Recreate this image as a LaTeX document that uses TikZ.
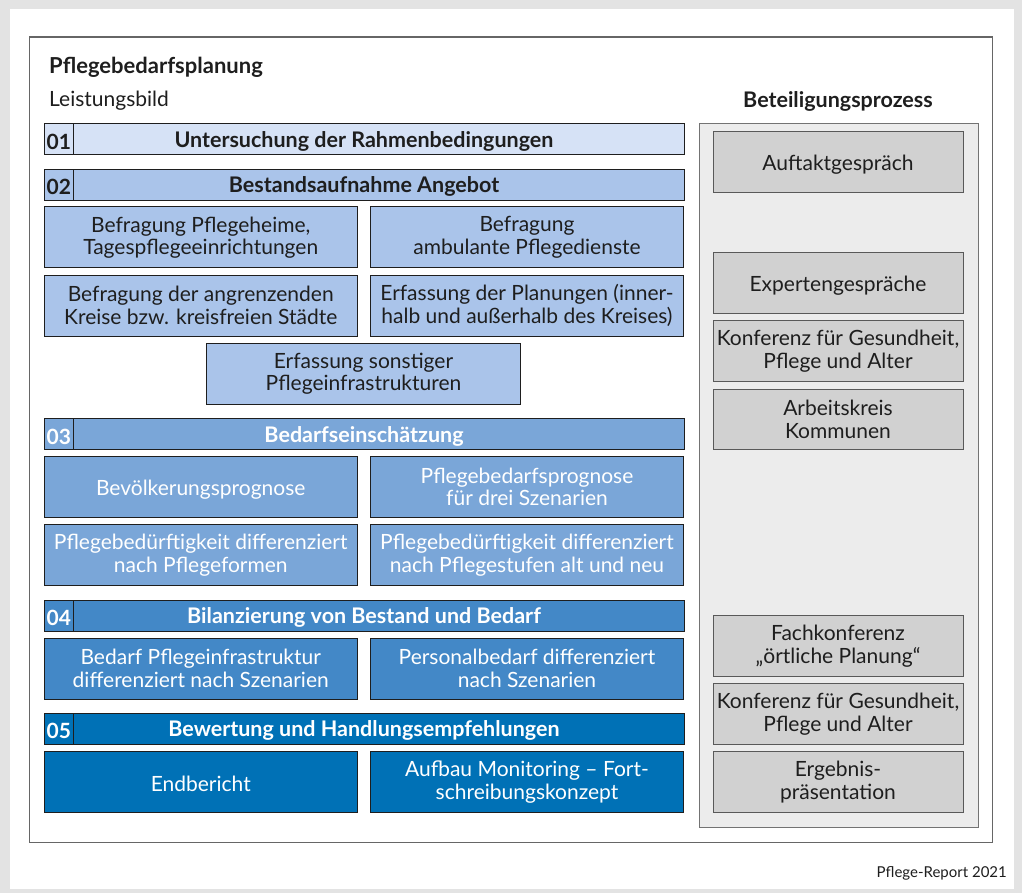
\documentclass[tikz,border=0pt]{standalone}
\usepackage{fontspec}
\setmainfont{Lato}
\definecolor{cA}{HTML}{D6E2F6}
\definecolor{cB}{HTML}{AAC4EA}
\definecolor{cC}{HTML}{7AA6D8}
\definecolor{cD}{HTML}{4388C7}
\definecolor{cE}{HTML}{0071B6}
\definecolor{gbx}{HTML}{D1D1D1}
\definecolor{gpan}{HTML}{ECECEC}
\definecolor{gfr}{HTML}{E3E3E3}
\definecolor{ink}{HTML}{1E1E1E}
\begin{document}
\begin{tikzpicture}[x=1pt,y=-1pt,
  every node/.style={inner sep=0pt, align=center, text=ink, font=\fontsize{21}{22.5}\selectfont},
  lower/.style={execute at begin node={\rule{0pt}{20pt}}},
  two/.style={execute at begin node={\rule{0pt}{25.5pt}}},
  lbox/.style={lower, draw=ink, line width=1pt, fill=#1, minimum width=313.5pt, minimum height=61pt},
  bar/.style={lower, draw=ink, line width=1pt, fill=#1, minimum width=640pt, minimum height=31pt, font=\fontsize{21.5}{22.5}\selectfont\bfseries},
  numcell/.style={lower, draw=ink, line width=1pt, fill=#1, anchor=west, minimum width=28.7pt, minimum height=31pt, font=\fontsize{21}{22.5}\selectfont\bfseries},
  gbox/.style={lower, draw=black!65, line width=0.9pt, fill=gbx, minimum width=250pt, minimum height=60.5pt},
  wt/.style={text=white}
]
\useasboundingbox (0,0) rectangle (1022,893);
% page frame
\fill[gfr] (0,0) rectangle (1022,893);
\fill[white] (10,9) rectangle (1014,889);
\draw[black!60, line width=1.1pt] (29.5,37) rectangle (992.5,842.5);

% headings
\node[anchor=west, font=\fontsize{22}{24}\selectfont\bfseries] (title) at (49,67) {Pflegebedarfsplanung};
\node[anchor=west, font=\fontsize{21}{22}\selectfont] (leist) at (49,101) {Leistungsbild};
\node[font=\fontsize{21.5}{22}\selectfont\bfseries] (beteil) at (838,101) {Beteiligungsprozess};

% right panel
\node[draw=black!55, line width=0.9pt, fill=gpan, minimum width=279pt, minimum height=704.4pt] (panel) at (838.5,475.5) {};

% 01
\node[bar=cA] (h1) at (364,139.5) {Untersuchung der Rahmenbedingungen};
\node[numcell=cA] (n1) at (44,139.5) {01};

% 02
\node[bar=cB] (h2) at (364,184.75) {Bestandsaufnahme Angebot};
\node[numcell=cB] (n2) at (44,184.75) {02};
\node[lbox=cB, two] (b21) at (200.75,237.5) {Befragung Pflegeheime,\\Tagespflegeeinrichtungen};
\node[lbox=cB, two] (b22) at (527,237.5) {Befragung\\ambulante Pflegedienste};
\node[lbox=cB, two] (b23) at (200.75,305.5) {Befragung der angrenzenden\\Kreise bzw. kreisfreien Städte};
\node[lbox=cB, two] (b24) at (527,305.5) {Erfassung der Planungen (inner-\\halb und außerhalb des Kreises)};
\node[lbox=cB, two] (b25) at (363.5,373.5) {Erfassung sonstiger\\Pflegeinfrastrukturen};

% 03
\node[bar=cC, wt] (h3) at (364,434.25) {Bedarfseinschätzung};
\node[numcell=cC, wt] (n3) at (44,434.25) {03};
\node[lbox=cC, wt] (b31) at (200.75,487) {Bevölkerungsprognose};
\node[lbox=cC, wt, two] (b32) at (527,487) {Pflegebedarfsprognose\\für drei Szenarien};
\node[lbox=cC, wt, two] (b33) at (200.75,555) {Pflegebedürftigkeit differenziert\\nach Pflegeformen};
\node[lbox=cC, wt, two] (b34) at (527,555) {Pflegebedürftigkeit differenziert\\nach Pflegestufen alt und neu};

% 04
\node[bar=cD, wt] (h4) at (364,615.75) {Bilanzierung von Bestand und Bedarf};
\node[numcell=cD, wt] (n4) at (44,615.75) {04};
\node[lbox=cD, wt, two] (b41) at (200.75,668.5) {Bedarf Pflegeinfrastruktur\\differenziert nach Szenarien};
\node[lbox=cD, wt, two] (b42) at (527,668.5) {Personalbedarf differenziert\\nach Szenarien};

% 05
\node[bar=cE, wt] (h5) at (364,728.75) {Bewertung und Handlungsempfehlungen};
\node[numcell=cE, wt] (n5) at (44,728.75) {05};
\node[lbox=cE, wt] (b51) at (200.75,782) {Endbericht};
\node[lbox=cE, wt, two] (b52) at (527,782) {Aufbau Monitoring – Fort-\\schreibungskonzept};

% right boxes
\node[gbox] (r1) at (838,162) {Auftaktgespräch};
\node[gbox] (r2) at (838,283) {Expertengespräche};
\node[gbox, two] (r3) at (838,351) {Konferenz für Gesundheit,\\Pflege und Alter};
\node[gbox, two] (r4) at (838,419.25) {Arbeitskreis\\Kommunen};
\node[gbox, two] (r5) at (838,646) {Fachkonferenz\\„örtliche Planung“};
\node[gbox, two] (r6) at (838,714) {Konferenz für Gesundheit,\\Pflege und Alter};
\node[gbox, two] (r7) at (838,782) {Ergebnis-\\präsentation};

% source
\node[anchor=east, font=\fontsize{15}{18}\selectfont] (src) at (1007,873) {Pflege-Report 2021};
\end{tikzpicture}
\end{document}
